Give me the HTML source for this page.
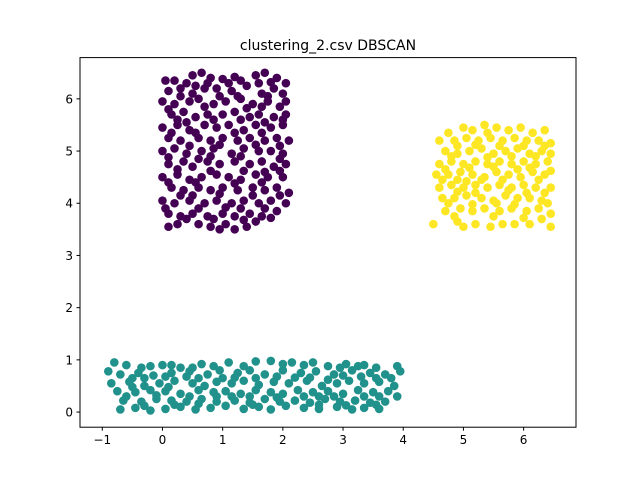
<!DOCTYPE html>
<html><head><meta charset="utf-8"><style>
body{margin:0;background:#fff;}
svg{display:block;font-family:"DejaVu Sans","Liberation Sans",sans-serif;}
</style></head><body>
<svg id="chart" width="640" height="480">
<rect width="640" height="480" fill="#fff"/>
<text x="328" y="50" text-anchor="middle" font-size="14">clustering_2.csv DBSCAN</text>
<g id="marks"></g>
<rect x="80" y="57.6" width="496" height="369.6" fill="none" stroke="#000" stroke-width="1"/>
<g id="axes"></g>
</svg>
<script>
const xTicks=[-1,0,1,2,3,4,5,6];
const yTicks=[0,1,2,3,4,5,6];
const cluster0=[[0.05,6.35],[0.5,6.45],[0.65,6.5],[0.8,6.4],[1.0,6.38],[1.2,6.42],[1.55,6.45],[1.7,6.5],[1.9,6.4],[2.05,6.3],
[0.1,6.15],[0.3,6.2],[0.55,6.25],[0.7,6.2],[0.9,6.2],[1.15,6.15],[1.4,6.25],[1.65,6.1],[1.85,6.2],[2.0,6.1],
[0.0,5.95],[0.2,5.9],[0.45,5.95],[0.6,6.0],[0.85,5.9],[1.05,5.95],[1.3,6.0],[1.5,5.9],[1.75,5.95],[1.95,5.85],
[0.15,5.7],[0.35,5.75],[0.55,5.65],[0.75,5.7],[1.0,5.7],[1.2,5.75],[1.45,5.65],[1.6,5.7],[1.85,5.65],[2.05,5.7],
[0.0,5.45],[0.25,5.5],[0.45,5.4],[0.7,5.5],[0.9,5.45],[1.1,5.5],[1.35,5.4],[1.55,5.5],[1.8,5.45],[2.0,5.5],
[0.1,5.25],[0.3,5.2],[0.6,5.25],[0.8,5.2],[1.0,5.25],[1.25,5.2],[1.45,5.25],[1.7,5.2],[1.9,5.25],[2.1,5.2],
[0.0,5.0],[0.2,5.05],[0.4,4.95],[0.65,5.0],[0.85,5.05],[1.15,4.95],[1.35,5.05],[1.6,5.0],[1.8,5.0],[2.0,4.95],
[0.1,4.75],[0.35,4.8],[0.5,4.7],[0.75,4.8],[0.95,4.75],[1.2,4.8],[1.45,4.75],[1.65,4.8],[1.85,4.7],[2.05,4.75],
[0.0,4.5],[0.25,4.55],[0.45,4.45],[0.65,4.5],[0.9,4.55],[1.1,4.5],[1.3,4.45],[1.55,4.55],[1.75,4.5],[2.0,4.5],
[0.15,4.3],[0.35,4.25],[0.6,4.3],[0.8,4.25],[1.0,4.3],[1.25,4.25],[1.5,4.3],[1.7,4.25],[1.9,4.3],[2.1,4.2],
[0.0,4.05],[0.2,4.0],[0.45,4.05],[0.7,4.0],[0.9,4.05],[1.15,4.0],[1.35,4.05],[1.6,4.0],[1.8,4.05],[2.05,4.0],
[0.1,3.8],[0.3,3.75],[0.5,3.8],[0.75,3.75],[1.0,3.8],[1.2,3.75],[1.45,3.8],[1.65,3.75],[1.9,3.85],
[0.1,3.55],[0.6,3.6],[0.8,3.55],[1.05,3.6],[1.2,3.5],[1.4,3.55],[0.4,3.7],[1.55,3.65],
[0.3,6.05],[0.95,6.05],[1.6,6.3],[0.4,5.55],[1.3,5.6],[0.6,4.85],[1.7,4.6],[0.3,4.15],[1.3,3.9],[0.85,3.7],
[0.2,6.35],[0.4,6.3],[1.1,6.3],[1.3,6.35],[1.8,6.32],[0.5,6.1],[1.25,6.05],[1.75,6.05],[2.05,5.95],[0.1,5.8],
[0.7,5.85],[1.4,5.82],[1.65,5.85],[0.25,5.6],[0.85,5.6],[1.7,5.55],[2.0,5.6],[0.15,5.35],[0.55,5.35],[1.2,5.35],
[1.65,5.35],[0.45,5.1],[0.95,5.12],[1.55,5.12],[1.95,5.1],[0.1,4.88],[0.8,4.9],[1.3,4.9],[1.95,4.85],[0.25,4.65],
[0.8,4.62],[1.35,4.62],[1.95,4.62],[0.1,4.4],[0.55,4.4],[1.2,4.38],[1.65,4.4],[0.5,4.15],[0.95,4.18],[1.5,4.15],
[1.95,4.15],[0.05,3.9],[0.6,3.9],[1.05,3.92],[1.7,3.9],[0.25,3.6],[0.95,3.5],[1.35,3.68],[1.8,3.72],[0.75,6.3]];
const cluster1=[[-0.8,0.95],[-0.6,0.9],[-0.35,0.85],[0.0,0.9],[0.3,0.85],[0.65,0.92],[1.1,0.95],[1.55,0.97],[1.8,0.98],[2.15,0.95],[2.5,0.95],[2.75,0.88],[3.05,0.92],[3.35,0.9],[3.9,0.88],
[-0.9,0.78],[-0.7,0.72],[-0.4,0.75],[-0.15,0.7],[0.15,0.75],[0.45,0.78],[0.75,0.72],[0.95,0.8],[1.25,0.75],[1.45,0.8],[1.7,0.72],[2.0,0.8],[2.3,0.75],[2.55,0.78],[2.85,0.72],[3.15,0.8],[3.45,0.75],[3.7,0.72],[3.95,0.78],
[-0.85,0.55],[-0.55,0.58],[-0.3,0.5],[-0.05,0.55],[0.2,0.6],[0.5,0.55],[0.7,0.5],[0.9,0.58],[1.15,0.55],[1.35,0.6],[1.6,0.52],[1.85,0.58],[2.1,0.55],[2.4,0.6],[2.65,0.5],[2.9,0.55],[3.1,0.6],[3.35,0.55],[3.6,0.58],[3.85,0.5],
[-0.75,0.4],[-0.45,0.38],[-0.2,0.42],[0.05,0.4],[0.3,0.35],[0.6,0.42],[0.85,0.38],[1.05,0.4],[1.3,0.35],[1.55,0.42],[1.8,0.38],[2.0,0.35],[2.25,0.42],[2.5,0.38],[2.75,0.4],[3.0,0.35],[3.25,0.42],[3.5,0.38],[3.75,0.4],
[-0.65,0.22],[-0.35,0.2],[-0.1,0.25],[0.15,0.22],[0.4,0.2],[0.65,0.25],[0.9,0.2],[1.2,0.22],[1.45,0.18],[1.7,0.25],[1.95,0.2],[2.2,0.22],[2.45,0.18],[2.7,0.25],[2.95,0.2],[3.2,0.22],[3.45,0.18],[3.7,0.2],
[-0.7,0.05],[-0.45,0.08],[-0.2,0.03],[0.05,0.06],[0.3,0.1],[0.55,0.05],[0.8,0.08],[1.35,0.06],[1.6,0.1],[1.8,0.05],[2.35,0.08],[2.6,0.06],[2.9,0.1],[3.15,0.05],[3.35,0.08],[3.6,0.06],
[-0.5,0.65],[0.4,0.68],[1.0,0.65],[2.2,0.66],[3.0,0.7],[3.55,0.65],[-0.6,0.3],[0.9,0.3],[2.6,0.3],[3.6,0.3],
[-0.2,0.88],[0.15,0.9],[0.5,0.85],[0.85,0.88],[1.35,0.88],[2.0,0.92],[2.35,0.9],[2.95,0.85],[3.25,0.88],[3.55,0.85],
[-0.3,0.65],[0.05,0.68],[0.6,0.65],[1.2,0.66],[1.55,0.65],[1.9,0.68],[2.45,0.66],[2.75,0.62],[3.3,0.68],[3.8,0.65],
[-0.1,0.32],[0.45,0.3],[1.15,0.3],[1.45,0.3],[1.9,0.28],[2.35,0.3],[2.85,0.3],[3.35,0.3],[3.9,0.3],[-0.5,0.48],
[0.1,0.48],[0.6,0.16],[1.05,0.12],[1.5,0.14],[2.05,0.12],[2.6,0.14],[3.05,0.13],[3.55,0.14],[-0.3,0.12],[0.2,0.14]];
const cluster2=[[4.75,5.35],[5.0,5.45],[5.15,5.4],[5.35,5.5],[5.55,5.45],[5.75,5.4],[5.95,5.45],[6.15,5.35],[6.35,5.4],
[4.6,5.2],[4.85,5.2],[5.05,5.25],[5.25,5.2],[5.45,5.25],[5.65,5.2],[5.85,5.25],[6.05,5.2],[6.25,5.2],[6.45,5.15],
[4.7,5.0],[4.9,4.95],[5.1,5.0],[5.3,5.05],[5.5,4.95],[5.7,5.0],[5.9,5.05],[6.1,4.95],[6.3,5.0],[6.45,4.95],
[4.6,4.75],[4.8,4.8],[5.0,4.75],[5.2,4.8],[5.4,4.75],[5.6,4.8],[5.8,4.75],[6.0,4.8],[6.2,4.75],[6.4,4.8],
[4.55,4.55],[4.75,4.55],[4.95,4.6],[5.15,4.55],[5.35,4.5],[5.55,4.6],[5.75,4.55],[5.95,4.5],[6.15,4.6],[6.35,4.55],
[4.6,4.3],[4.8,4.35],[5.0,4.3],[5.2,4.35],[5.4,4.3],[5.6,4.35],[5.8,4.3],[6.0,4.35],[6.2,4.3],[6.45,4.3],
[4.65,4.1],[4.85,4.1],[5.05,4.15],[5.3,4.1],[5.5,4.05],[5.7,4.15],[5.9,4.1],[6.1,4.1],[6.3,4.05],
[4.7,3.85],[4.95,3.9],[5.15,3.85],[5.35,3.9],[5.6,3.85],[5.8,3.9],[6.05,3.85],[6.25,3.9],[6.45,3.8],
[4.5,3.6],[4.9,3.65],[5.0,3.55],[5.2,3.6],[5.45,3.55],[5.65,3.6],[5.85,3.6],[6.1,3.6],[6.45,3.55],
[5.4,5.35],[5.9,4.65],[5.3,4.45],[6.05,4.2],[5.55,4.0],[4.9,4.45],
[4.9,5.1],[5.2,5.12],[5.6,5.1],[6.0,5.1],[6.35,5.1],[4.8,4.9],[5.4,4.88],[5.8,4.9],[6.2,4.9],[4.7,4.65],
[5.1,4.68],[5.5,4.7],[6.1,4.68],[6.45,4.62],[4.65,4.45],[5.05,4.42],[5.65,4.45],[6.25,4.45],[4.9,4.22],[5.2,4.2],
[5.75,4.25],[6.35,4.2],[4.75,4.0],[5.15,3.98],[5.85,3.98],[6.4,4.0],[4.85,3.75],[5.5,3.75],[6.0,3.72],[6.3,3.7]];
const xMin=-1.37,xMax=6.87,yMin=-0.29,yMax=6.79;
const L=80,R=576,T=57.6,B=427.2;
function sx(v){return L+(v-xMin)/(xMax-xMin)*(R-L);}
function sy(v){return B-(v-yMin)/(yMax-yMin)*(B-T);}
const NS='http://www.w3.org/2000/svg';
const marks=document.getElementById('marks');
function draw(data,color,name){
 const g=document.createElementNS(NS,'g');
 
 
 data.forEach(p=>{
  const c=document.createElementNS(NS,'circle');
  c.setAttribute('cx',sx(p[0]));c.setAttribute('cy',sy(p[1]));c.setAttribute('r',4.3);c.setAttribute('fill',color);
  
  
  g.appendChild(c);
 });
 marks.appendChild(g);
}
draw(cluster1,'#21918c','cluster-1-points');
draw(cluster0,'#440154','cluster-0-points');
draw(cluster2,'#fde725','cluster-2-points');
const axes=document.getElementById('axes');
xTicks.forEach(t=>{
 const x=sx(t);
 const l=document.createElementNS(NS,'line');
 l.setAttribute('x1',x);l.setAttribute('x2',x);l.setAttribute('y1',B);l.setAttribute('y2',B+3.5);l.setAttribute('stroke','#000');
 
 
 axes.appendChild(l);
 const tx=document.createElementNS(NS,'text');
 tx.setAttribute('x',x);tx.setAttribute('y',B+17);tx.setAttribute('text-anchor','middle');tx.setAttribute('font-size','12');
 tx.textContent=(t<0?'\u2212'+(-t):t);
 
 
 axes.appendChild(tx);
});
yTicks.forEach(t=>{
 const y=sy(t);
 const l=document.createElementNS(NS,'line');
 l.setAttribute('x1',L-3.5);l.setAttribute('x2',L);l.setAttribute('y1',y);l.setAttribute('y2',y);l.setAttribute('stroke','#000');
 
 
 axes.appendChild(l);
 const tx=document.createElementNS(NS,'text');
 tx.setAttribute('x',L-7);tx.setAttribute('y',y+4.5);tx.setAttribute('text-anchor','end');tx.setAttribute('font-size','12');
 tx.textContent=t;
 
 
 axes.appendChild(tx);
});
</script>
</body></html>
